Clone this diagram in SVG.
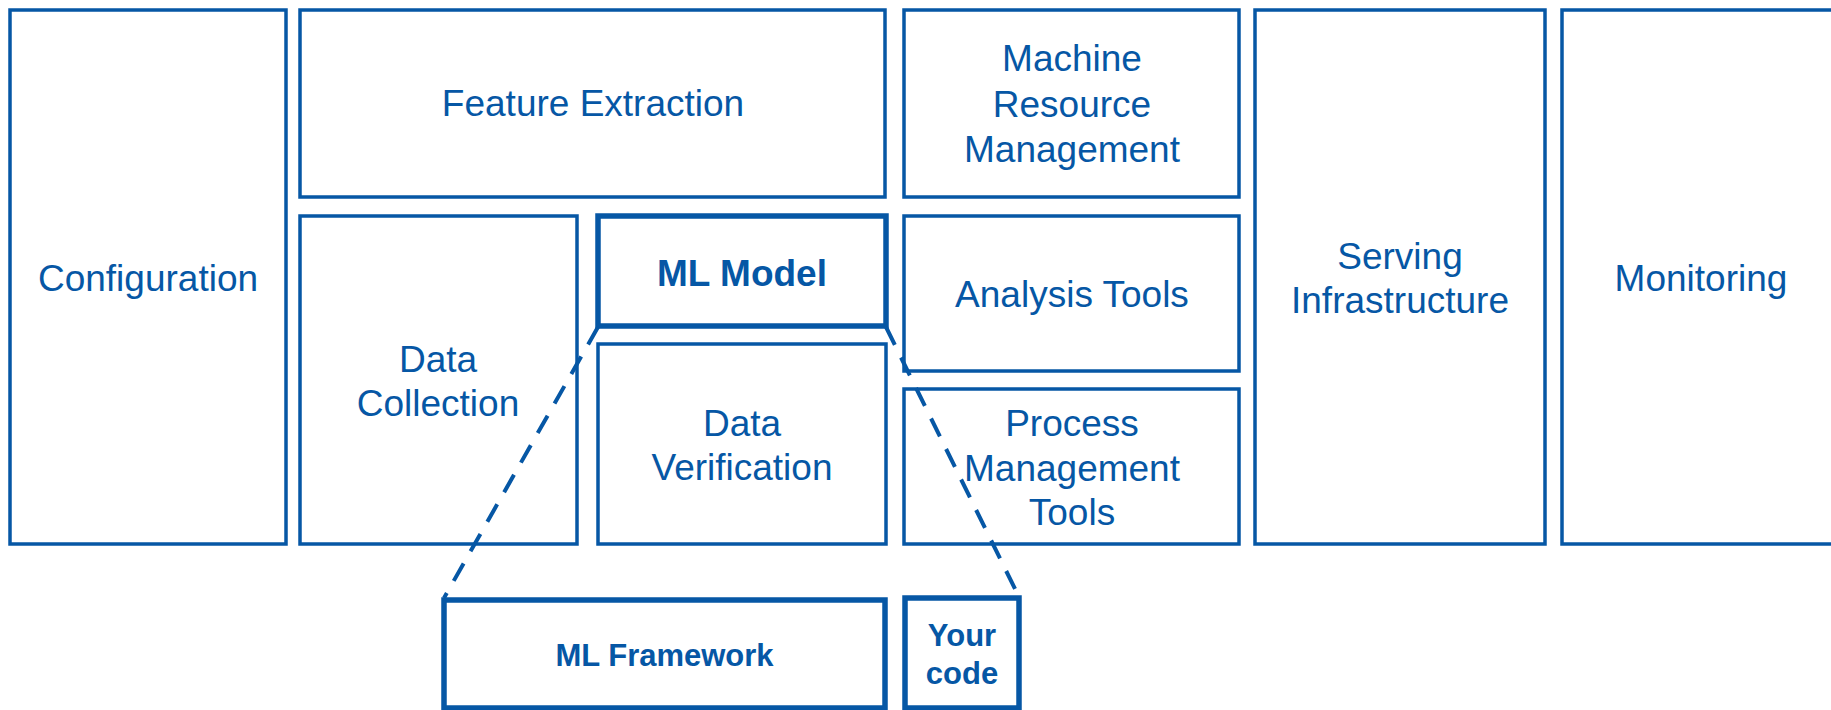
<svg xmlns="http://www.w3.org/2000/svg" width="1831" height="710" viewBox="0 0 1831 710">
<style>
.box{fill:#fff;stroke:#0657a5;stroke-width:3.5}
.thick{fill:#fff;stroke:#0657a5;stroke-width:5.5}
text{font-family:"Liberation Sans",Arial,sans-serif;fill:#0657a5;text-anchor:middle}
.t{font-size:37px}
.b{font-size:37px;font-weight:bold}
.s{font-size:31px;font-weight:bold}
.dash{stroke:#0657a5;stroke-width:4;stroke-dasharray:20 14;fill:none}
</style>
<rect width="1831" height="710" fill="#fff"/>
<g id="configuration"><rect class="box" x="10" y="10" width="276" height="534"/><text class="t" x="148" y="291">Configuration</text></g>
<g id="feature-extraction"><rect class="box" x="300" y="10" width="585" height="187"/><text class="t" x="593" y="116">Feature Extraction</text></g>
<g id="machine-resource"><rect class="box" x="904" y="10" width="335" height="187"/><text class="t" x="1072" y="71">Machine</text><text class="t" x="1072" y="117">Resource</text><text class="t" x="1072" y="162">Management</text></g>
<g id="serving"><rect class="box" x="1255" y="10" width="290" height="534"/><text class="t" x="1400" y="269">Serving</text><text class="t" x="1400" y="313">Infrastructure</text></g>
<g id="monitoring"><rect class="box" x="1562" y="10" width="280" height="534"/><text class="t" x="1701" y="291">Monitoring</text></g>
<g id="data-collection"><rect class="box" x="300" y="216" width="277" height="328"/><text class="t" x="438" y="372">Data</text><text class="t" x="438" y="416">Collection</text></g>
<g id="ml-model"><rect class="thick" x="598" y="216" width="288" height="110"/><text class="b" x="742" y="286">ML Model</text></g>
<g id="data-verification"><rect class="box" x="598" y="344" width="288" height="200"/><text class="t" x="742" y="436">Data</text><text class="t" x="742" y="480">Verification</text></g>
<g id="analysis-tools"><rect class="box" x="904" y="216" width="335" height="155"/><text class="t" x="1072" y="307">Analysis Tools</text></g>
<g id="process-management"><rect class="box" x="904" y="389" width="335" height="155"/><text class="t" x="1072" y="436">Process</text><text class="t" x="1072" y="481">Management</text><text class="t" x="1072" y="525">Tools</text></g>
<g id="connectors">
<line class="dash" x1="598" y1="327" x2="444" y2="598"/>
<line class="dash" x1="886" y1="327" x2="1019" y2="597"/>
</g>
<g id="ml-framework"><rect class="thick" x="444" y="600" width="441" height="108"/><text class="s" x="664.5" y="666">ML Framework</text></g>
<g id="your-code"><rect class="thick" x="905" y="598" width="114" height="110"/><text class="s" x="962" y="646">Your</text><text class="s" x="962" y="684">code</text></g>
</svg>
